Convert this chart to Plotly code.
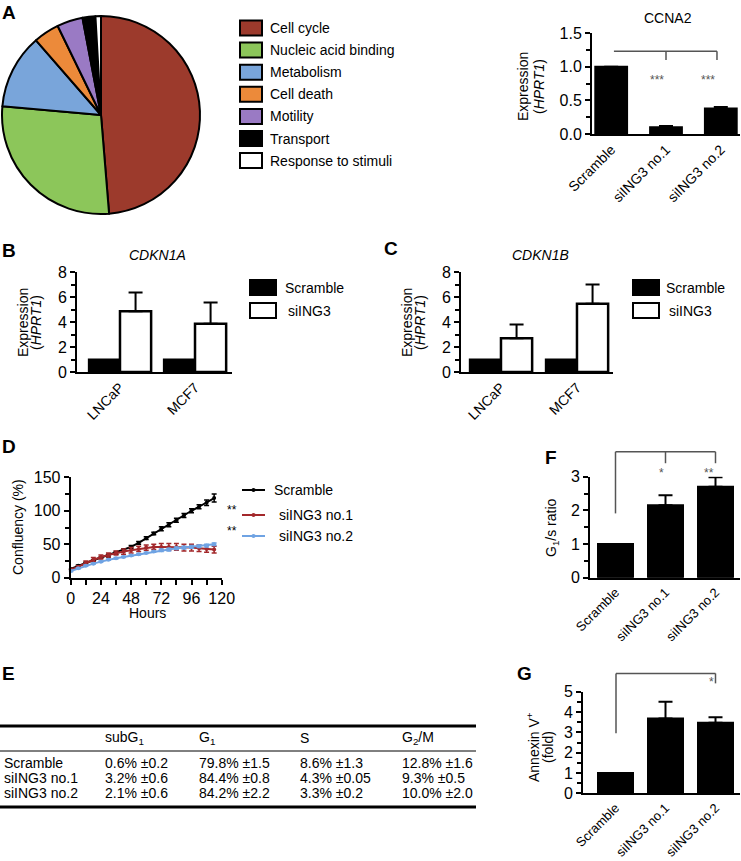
import plotly.graph_objects as go

W, H = 741, 861
FONT = "Liberation Sans, Arial, Helvetica, sans-serif"

# ---------------- data ----------------
# Panel A (pie)
go_categories = ["Cell cycle", "Nucleic acid binding", "Metabolism", "Cell death",
                 "Motility", "Transport", "Response to stimuli"]
go_shares = [48.7, 27.7, 12.2, 4.2, 4.2, 2.1, 0.9]
go_colors = ["#9C3A2C", "#8CC65A", "#79A5DA", "#EC8A3A", "#9A7AC4", "#000000", "#FFFFFF"]

# Panel A (CCNA2)
knock_groups = ["Scramble", "siING3 no.1", "siING3 no.2"]
ccna2_values = [1.0, 0.10, 0.38]
ccna2_err = [0.0, 0.02, 0.02]

# Panels B, C
cell_lines = ["LNCaP", "MCF7"]
cdkn1a_scramble = [1.0, 1.0]
cdkn1a_siing3 = [4.85, 3.85]
cdkn1a_siing3_err = [1.5, 1.7]
cdkn1b_scramble = [1.0, 1.0]
cdkn1b_siing3 = [2.7, 5.45]
cdkn1b_siing3_err = [1.1, 1.55]
bc_legend = ["Scramble", "siING3"]

# Panel D
hours = [0, 6, 12, 18, 24, 30, 36, 42, 48, 54, 60, 66, 72, 78, 84, 90, 96, 102, 108, 114]
conf_scramble = [13, 18, 22, 26, 30, 33, 37, 41, 46, 52, 59, 66, 73, 79, 86, 93, 100, 106, 112, 119]
conf_scramble_err = [1, 1, 1, 1, 1, 2, 2, 2, 2, 2, 2, 2, 3, 3, 3, 3, 3, 3, 4, 6]
conf_si1 = [12, 16, 22, 27, 31, 34, 37, 39, 41, 43, 45, 46, 46, 46, 46, 45, 45, 44, 43, 42]
conf_si1_err = [2, 2, 3, 3, 3, 3, 3, 4, 4, 4, 4, 4, 5, 5, 5, 5, 5, 5, 5, 5]
conf_si2 = [10, 14, 18, 21, 24, 27, 29, 31, 33, 35, 37, 39, 41, 42, 44, 45, 46, 47, 48, 50]
conf_si2_err = [1, 1, 1, 1, 1, 1, 1, 1, 1, 1, 1, 1, 2, 2, 2, 2, 2, 2, 2, 2]
d_series = ["Scramble", "siING3 no.1", "siING3 no.2"]
d_colors = ["#000000", "#A3282B", "#6FA3E3"]

# Panel E (table)
table_header = ["subG<sub>1</sub>", "G<sub>1</sub>", "S", "G<sub>2</sub>/M"]
table_rows = ["Scramble", "siING3 no.1", "siING3 no.2"]
col_subg1 = ["0.6% ±0.2", "3.2% ±0.6", "2.1% ±0.6"]
col_g1 = ["79.8% ±1.5", "84.4% ±0.8", "84.2% ±2.2"]
col_s = ["8.6% ±1.3", "4.3% ±0.05", "3.3% ±0.2"]
col_g2m = ["12.8% ±1.6", "9.3% ±0.5", "10.0% ±2.0"]

# Panel F
g1s_values = [1.0, 2.15, 2.70]
g1s_err = [0.0, 0.30, 0.28]

# Panel G
annexin_values = [1.0, 3.68, 3.47]
annexin_err = [0.0, 0.82, 0.27]

# ---------------- layout geometry (pixels) ----------------
PANELS = {
    "ccna2": dict(ax="", x0=592, x1=740, xr=[-0.35, 2.35], top=33, bottom=134, yr=[0, 1.5]),
    "b": dict(ax="2", x0=77, x1=232, xr=[-0.573, 1.493], top=272, bottom=372, yr=[0, 8]),
    "c": dict(ax="3", x0=461, x1=613, xr=[-0.526, 1.474], top=272, bottom=372, yr=[0, 8]),
    "d": dict(ax="4", x0=70.7, x1=221.7, xr=[0, 120], top=477.3, bottom=577.7, yr=[0, 150]),
    "f": dict(ax="5", x0=590, x1=740, xr=[-0.51, 2.49], top=476.7, bottom=577.7, yr=[0, 3]),
    "g": dict(ax="6", x0=583, x1=740, xr=[-0.65, 2.49], top=691.7, bottom=793.3, yr=[0, 5]),
}


def px(x):
    return x / W


def py(y):
    return 1 - y / H


def d2p(name, xv, yv):
    p = PANELS[name]
    xpx = p["x0"] + (xv - p["xr"][0]) / (p["xr"][1] - p["xr"][0]) * (p["x1"] - p["x0"])
    ypx = p["bottom"] - (yv - p["yr"][0]) / (p["yr"][1] - p["yr"][0]) * (p["bottom"] - p["top"])
    return px(xpx), py(ypx)


fig = go.Figure()

# ---------------- Panel A pie ----------------
fig.add_trace(go.Pie(
    labels=go_categories, values=go_shares, sort=False, direction="clockwise", rotation=0,
    marker=dict(colors=go_colors, line=dict(color="black", width=2)),
    textinfo="none", textposition="none", hoverinfo="label+percent", showlegend=False,
    domain=dict(x=[px(2), px(200)], y=[py(214), py(16)]),
))

bar_black = dict(color="black", line=dict(color="black", width=2))
bar_white = dict(color="white", line=dict(color="black", width=2.5))


def err(arr):
    return dict(type="data", symmetric=False, array=arr, arrayminus=[0] * len(arr),
                color="black", thickness=2, width=7)


# CCNA2
fig.add_trace(go.Bar(x=knock_groups, y=ccna2_values, width=0.58, marker=bar_black,
                     error_y=err(ccna2_err), xaxis="x", yaxis="y", showlegend=False))
# B
fig.add_trace(go.Bar(x=cell_lines, y=cdkn1a_scramble, width=0.415, offset=-0.415, marker=bar_black,
                     xaxis="x2", yaxis="y2", showlegend=False))
fig.add_trace(go.Bar(x=cell_lines, y=cdkn1a_siing3, width=0.415, offset=0, marker=bar_white,
                     error_y=err(cdkn1a_siing3_err), xaxis="x2", yaxis="y2", showlegend=False))
# C
fig.add_trace(go.Bar(x=cell_lines, y=cdkn1b_scramble, width=0.41, offset=-0.41, marker=bar_black,
                     xaxis="x3", yaxis="y3", showlegend=False))
fig.add_trace(go.Bar(x=cell_lines, y=cdkn1b_siing3, width=0.41, offset=0, marker=bar_white,
                     error_y=err(cdkn1b_siing3_err), xaxis="x3", yaxis="y3", showlegend=False))
# D
for name, ys, es, col in zip(d_series, [conf_scramble, conf_si1, conf_si2],
                             [conf_scramble_err, conf_si1_err, conf_si2_err], d_colors):
    fig.add_trace(go.Scatter(
        x=hours, y=ys, mode="lines+markers", name=name,
        line=dict(color=col, width=2), marker=dict(color=col, size=4),
        error_y=dict(type="data", array=es, color=col, thickness=1.5, width=2.5),
        xaxis="x4", yaxis="y4", showlegend=False, cliponaxis=False))
# F
fig.add_trace(go.Bar(x=knock_groups, y=g1s_values, width=0.7, marker=bar_black,
                     error_y=err(g1s_err), xaxis="x5", yaxis="y5", showlegend=False))
# G
fig.add_trace(go.Bar(x=knock_groups, y=annexin_values, width=0.7, marker=bar_black,
                     error_y=err(annexin_err), xaxis="x6", yaxis="y6", showlegend=False))

# ---------------- axes ----------------
common = dict(showline=True, linecolor="black", linewidth=2, showgrid=False, zeroline=False,
              automargin=False, tickfont=dict(family=FONT, size=16, color="black"),
              fixedrange=True)
yticks = {
    "ccna2": dict(dtick=0.5, tickformat=".1f", minor=0.25),
    "b": dict(dtick=2, tickformat="d", minor=1),
    "c": dict(dtick=2, tickformat="d", minor=1),
    "d": dict(dtick=50, tickformat="d", minor=25),
    "f": dict(dtick=1, tickformat="d", minor=0.5),
    "g": dict(dtick=1, tickformat="d", minor=0.5),
}
xlabel_size = {"ccna2": 14, "b": 14, "c": 14, "f": 13, "g": 13}
for name, p in PANELS.items():
    s = p["ax"]
    xa = dict(common, domain=[px(p["x0"]), px(p["x1"])], range=p["xr"], anchor="y" + s)
    if name == "d":
        xa.update(ticks="outside", ticklen=5, tickwidth=2, tickcolor="black",
                  tickmode="linear", tick0=0, dtick=24,
                  minor=dict(ticks="outside", ticklen=5, tickwidth=2, tickcolor="black", dtick=12))
    else:
        xa.update(ticks="", tickangle=-45,
                  tickfont=dict(family=FONT, size=xlabel_size[name], color="black"))
    yt = yticks[name]
    ya = dict(common, domain=[py(p["bottom"]), py(p["top"])], range=p["yr"], anchor="x" + s,
              ticks="outside", ticklen=5, tickwidth=2, tickcolor="black",
              tickmode="linear", tick0=0, dtick=yt["dtick"], tickformat=yt["tickformat"],
              minor=dict(ticks="outside", ticklen=4, tickwidth=2, tickcolor="black", dtick=yt["minor"]))
    fig.layout["xaxis" + s] = xa
    fig.layout["yaxis" + s] = ya

# ---------------- annotations & shapes ----------------
ann = []
shapes = []


def text(x, y, t, size=14, **kw):
    d = dict(x=px(x), y=py(y), xref="paper", yref="paper", text=t, showarrow=False,
             font=dict(family=FONT, size=size, color=kw.pop("color", "black")),
             xanchor=kw.pop("xanchor", "center"), yanchor=kw.pop("yanchor", "middle"))
    d.update(kw)
    ann.append(d)


def rect(x0, y0, x1, y1, fill, lw=2):
    shapes.append(dict(type="rect", xref="paper", yref="paper", x0=px(x0), x1=px(x1),
                       y0=py(y1), y1=py(y0), fillcolor=fill, line=dict(color="black", width=lw)))


def seg(x0, y0, x1, y1, color="black", width=1.5):
    shapes.append(dict(type="line", xref="paper", yref="paper", x0=x0, y0=y0, x1=x1, y1=y1,
                       line=dict(color=color, width=width)))


# panel letters
for L, (x, y) in {"A": (9, 13), "B": (9, 250), "C": (391, 248), "D": (9, 447),
                  "E": (8, 673), "F": (551, 458), "G": (524, 673)}.items():
    text(x, y, "<b>%s</b>" % L, size=19)

# pie legend
for i, (cat, col) in enumerate(zip(go_categories, go_colors)):
    yc = 28 + 22.1 * i
    rect(240, yc - 7.5, 262, yc + 7.5, col)
    text(268, yc, cat, size=14, xanchor="left")

# CCNA2 title and y title
text(668, 18, "CCNA2", size=14)
text(523, 87, "Expression", size=14, textangle=-90)
text(539, 87, "(<i>HPRT1</i>)", size=14, textangle=-90)
# CCNA2 bracket
gray = "#555555"
xl, yb = d2p("ccna2", 0.05, 1.23)
xm, ydr = d2p("ccna2", 1, 1.10)
xr_, _ = d2p("ccna2", 1.93, 1.10)
seg(xl, yb, xr_, yb, gray)
seg(xm, yb, xm, ydr, gray)
seg(xr_, yb, xr_, ydr, gray)
for xi in [1, 1.93]:
    sx, sy = d2p("ccna2", xi, 0.93)
    ann.append(dict(x=sx, y=sy, xref="paper", yref="paper", text="***", showarrow=False,
                    font=dict(family=FONT, size=12, color=gray)))

# B and C titles, y titles, legends
text(157, 255, "<i>CDKN1A</i>", size=14)
text(540, 255, "<i>CDKN1B</i>", size=14)
for xe, xh in [(23, 36), (407, 420)]:
    text(xe, 323, "Expression", size=14, textangle=-90)
    text(xh, 323, "(<i>HPRT1</i>)", size=14, textangle=-90)
for bx, tx in [(250, 283), (633, 664)]:
    rect(bx, 280, bx + 26, 295, "black")
    rect(bx, 303, bx + 26, 318, "white")
    text(tx, 287.5, bc_legend[0], size=14, xanchor="left")
    text(tx + 3, 310.5, bc_legend[1], size=14, xanchor="left")

# D titles and legend
text(18, 527, "Confluency (%)", size=14, textangle=-90)
text(147, 613, "Hours", size=14)
for i, (name, col) in enumerate(zip(d_series, d_colors)):
    yc = [490, 515, 536][i]
    seg(px(242), py(yc), px(265), py(yc), col, 2)
    shapes.append(dict(type="circle", xref="paper", yref="paper", x0=px(251.5), x1=px(255.5),
                       y0=py(yc + 2), y1=py(yc - 2), fillcolor=col, line=dict(width=0)))
    text(272 if i == 0 else 277, yc, name, size=14, xanchor="left")
    if i > 0:
        text(232, yc - 5, "**", size=12)

# F
text(552, 528, "G<sub>1</sub>/s ratio", size=14, textangle=-90)
xl, yb = d2p("f", 0, 3.74)
_, yld = d2p("f", 0, 1.91)
xm, ydr = d2p("f", 1, 3.40)
xr_, _ = d2p("f", 2, 3.40)
seg(xl, yb, xr_, yb, gray)
seg(xl, yb, xl, yld, gray)
seg(xm, yb, xm, ydr, gray)
seg(xr_, yb, xr_, ydr, gray)
for xi, st in [(1, "*"), (2, "**")]:
    sx, sy = d2p("f", xi, 3.12)
    ann.append(dict(x=sx, y=sy, xref="paper", yref="paper", text=st, showarrow=False,
                    font=dict(family=FONT, size=12, color=gray)))

# G
text(533, 747, "Annexin V<sup>+</sup>", size=14, textangle=-90)
text(548, 747, "(fold)", size=14, textangle=-90)
xl, yb = d2p("g", 0.01, 5.9)
_, yld = d2p("g", 0.01, 2.95)
xr_, ydr = d2p("g", 2, 5.41)
seg(xl, yb, xr_, yb, gray)
seg(xl, yb, xl, yld, gray)
seg(xr_, yb, xr_, ydr, gray)
sx, sy = d2p("g", 2, 5.05)
ann.append(dict(x=sx, y=sy, xref="paper", yref="paper", text="*", showarrow=False,
                font=dict(family=FONT, size=12, color=gray)))

# E table: header, row labels and cells
col_x = [103, 197, 298, 400]
row_y = [763, 777.5, 792.5]
for cx, h in zip(col_x, table_header):
    text(cx, 738, h, size=14, xanchor="left")
for ry, lab in zip(row_y, table_rows):
    text(2, ry, lab, size=14, xanchor="left")
for cx, col in zip(col_x, [col_subg1, col_g1, col_s, col_g2m]):
    for ry, v in zip(row_y, col):
        text(cx, ry, v, size=14, xanchor="left")
seg(px(0), py(726), px(476), py(726), "black", 3)
seg(px(0), py(751), px(476), py(751), "black", 1)
seg(px(0), py(807), px(476), py(807), "black", 3)

fig.update_layout(
    width=W, height=H, margin=dict(l=0, r=0, t=0, b=0, autoexpand=False),
    paper_bgcolor="white", plot_bgcolor="white",
    barmode="overlay", showlegend=False,
    font=dict(family=FONT, size=14, color="black"),
    annotations=ann, shapes=shapes,
)

fig.write_html("out.html", config={"displayModeBar": False, "staticPlot": True},
               post_script="document.body.style.margin='0px';")
